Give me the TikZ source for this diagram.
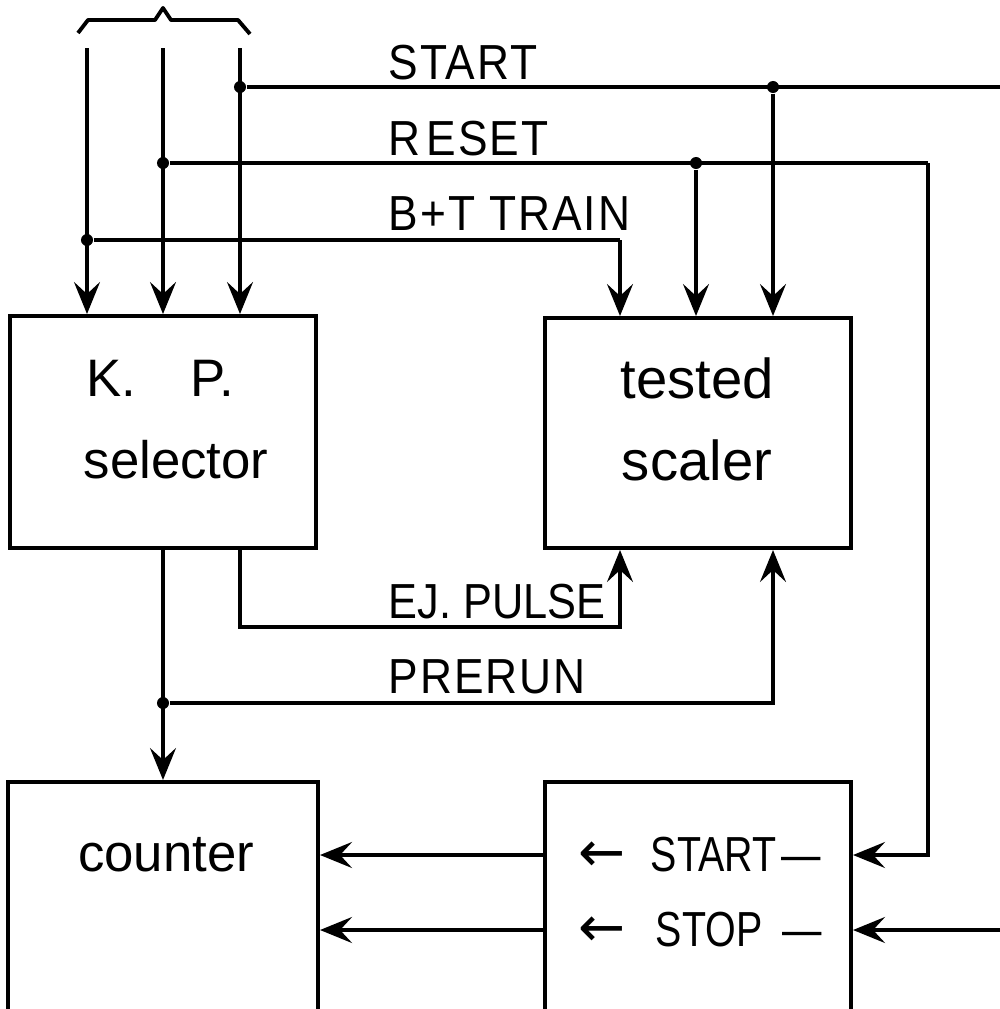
\documentclass[tikz,border=0pt]{standalone}
\usepackage{fontspec}
\setmainfont{Liberation Sans}
\newfontfamily\labfont[FakeStretch=0.9,LetterSpace=4]{Liberation Sans}
\newfontfamily\plainlab[FakeStretch=0.88]{Liberation Sans}
\newfontfamily\narrowfont[FakeStretch=0.8]{Liberation Sans}
\newfontfamily\symfont{DejaVu Sans}
\usetikzlibrary{arrows.meta}
\tikzset{
  wire/.style={line width=0.9pt},
  arr/.style={wire,-{Stealth[length=3.2mm,width=2.6mm,inset=1.2mm]}},
  sig/.style={font=\labfont\fontsize{14}{16}\selectfont,anchor=base west,inner sep=0pt},
  boxtxt/.style={font=\fontsize{15}{18}\selectfont,inner sep=0pt},
  innertxt/.style={font=\narrowfont\fontsize{14}{16}\selectfont,inner sep=0pt,anchor=west},
  junction/.style={circle,fill,inner sep=0pt,minimum size=1.2mm},
  blk/.style={draw,line width=1.1pt,inner sep=0pt},
}
\begin{document}
\begin{tikzpicture}[x=0.01cm,y=-0.01cm]
\useasboundingbox (0,0) rectangle (1000,1009);
\clip (0,0) rectangle (1000,1009);
% blocks
\node[blk,minimum width=3.06cm,minimum height=2.32cm] (kp) at (163,432) {};
\node[blk,minimum width=3.06cm,minimum height=2.30cm] (ts) at (698,433) {};
\node[blk,minimum width=3.10cm,minimum height=3.18cm] (cnt) at (163,941) {};
\node[blk,minimum width=3.06cm,minimum height=3.18cm] (ss) at (698,941) {};
% block texts
\node[boxtxt] (kpa) at (160,378) {K.\hspace{0.55cm}P.};
\node[boxtxt] (kpb) at (176,460) {selector};
\node[boxtxt,font=\fontsize{16}{18}\selectfont] (tsa) at (697,378) {tested};
\node[boxtxt,font=\fontsize{16}{18}\selectfont] (tsb) at (697,460) {scaler};
\node[boxtxt] (cnta) at (166,855) {counter};
\node[innertxt] (ssa) at (578,855) {\makebox[0.72cm][l]{\symfont\fontsize{16}{18}\selectfont ←}START\hspace{0.05cm}—};
\node[innertxt] (ssb) at (578,930) {\makebox[0.77cm][l]{\symfont\fontsize{16}{18}\selectfont ←}STOP\hspace{0.2cm}—};
% brace
\draw[line width=1.1pt,line join=round] (78,33) -- (88,20) -- (155,20) -- (163,8) -- (171,20) -- (238,20) -- (250,34);
% inputs
\coordinate (in1) at (87,48);
\coordinate (in2) at (163,48);
\coordinate (in3) at (240,48);
\draw[arr] (in1) -- (in1 |- kp.north);
\draw[arr] (in2) -- (in2 |- kp.north);
\draw[arr] (in3) -- (in3 |- kp.north);
% START
\node[junction] (j1) at (240,87) {};
\node[junction] (j2) at (773,87) {};
\coordinate (startend) at (1000,87);
\draw[wire] (j1) -- (startend);
\draw[arr] (j2) -- (j2 |- ts.north);
\node[sig] (lstart) at (388,79) {START};
% RESET
\node[junction] (j3) at (163,163) {};
\node[junction] (j4) at (696,163) {};
\coordinate (rc) at (928,163);
\draw[wire] (j3) -- (rc);
\draw[arr] (rc) -- (rc |- ssa) -- (ssa -| ss.east);
\draw[arr] (j4) -- (j4 |- ts.north);
\node[sig] (lreset) at (388,155) {R\hspace{0.06cm}ESET};
% B+T TRAIN
\node[junction] (j5) at (87,240) {};
\coordinate (bc) at (620,240);
\draw[wire] (j5) -- (bc);
\draw[arr] (bc) -- (bc |- ts.north);
\node[sig] (lbt) at (388,230) {B+T TRAIN};
% EJ PULSE
\coordinate (e1) at (240,627);
\coordinate (e2) at (620,627);
\draw[arr] (e1 |- kp.south) -- (e1) -- (e2) -- (e2 |- ts.south);
\node[sig,font=\plainlab\fontsize{14}{16}\selectfont] (lej) at (388,618) {EJ. PULSE};
% PRERUN
\node[junction] (j6) at (163,703) {};
\coordinate (p2) at (773,703);
\draw[arr] (j6 |- kp.south) -- (j6 |- cnt.north);
\draw[arr] (j6) -- (p2) -- (p2 |- ts.south);
\node[sig] (lpre) at (388,693) {PRERUN};
% start/stop to counter
\draw[arr] (ssa -| ss.west) -- (ssa -| cnt.east);
\draw[arr] (ssb -| ss.west) -- (ssb -| cnt.east);
\coordinate (stopin) at (1000,930);
\draw[arr] (stopin) -- (ssb -| ss.east);
\end{tikzpicture}
\end{document}
